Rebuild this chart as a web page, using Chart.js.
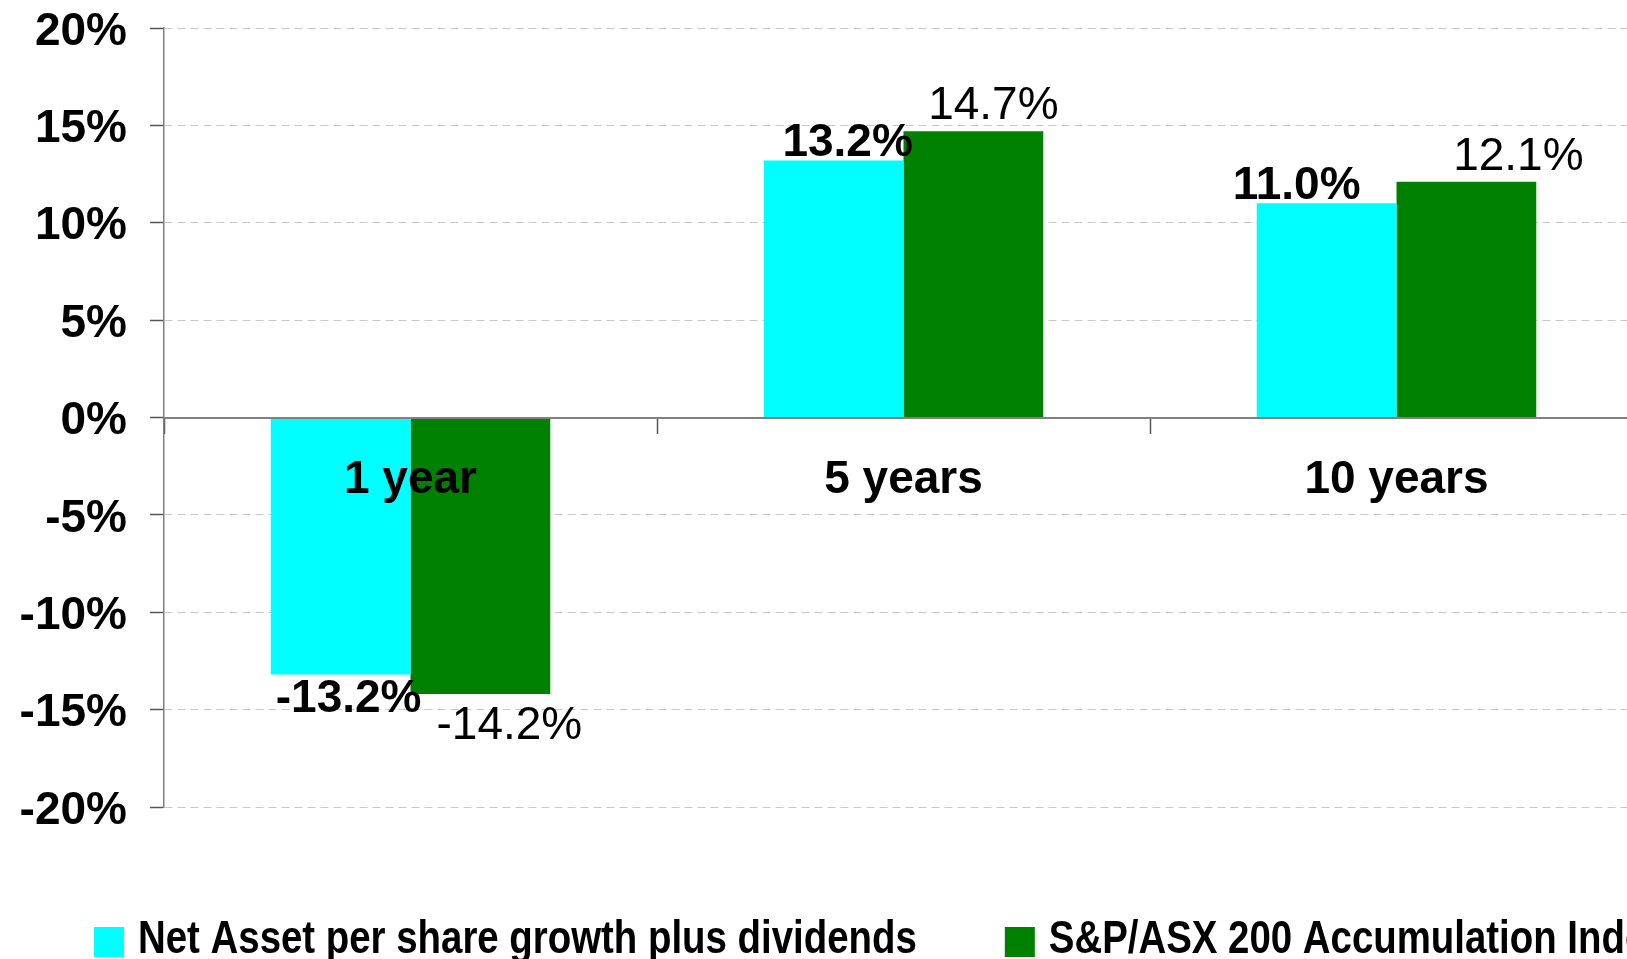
<!DOCTYPE html>
<html>
<head>
<meta charset="utf-8">
<script src="https://cdn.jsdelivr.net/npm/chart.js@4.4.1/dist/chart.umd.min.js"></script>
<style>
  html, body { margin: 0; padding: 0; background: #fff; overflow: hidden; }
  #wrap { position: absolute; left: 0; top: 0; }
</style>
</head>
<body>
<div id="wrap"><canvas id="perf" width="1700" height="959"></canvas></div>
<script>
// ── DATA ────────────────────────────────────────────────────────────────────────

const periods = ['1 year', '5 years', '10 years'];
const netAssetGrowth = [-13.2, 13.2, 11.0];
const asx200Index = [-14.2, 14.7, 12.1];
const seriesNames = ['Net Asset per share growth plus dividends', 'S&P/ASX 200 Accumulation Index'];

// ── LOOK ────────────────────────────────────────────────────────────────────────

const ARIAL = "'Liberation Sans', Arial, Helvetica, sans-serif";
const LABEL_SIZE = 46;
// value labels were dragged a bit in the original, so each one gets a small nudge
const labelShift = [[8, 14, -30], [29, 20, 52]];
const labelGap = [4, 12];
// no narrow font installed, so the legend text is squeezed by hand
const LEGEND_SQUEEZE = 0.817;

Chart.defaults.font.family = ARIAL;
Chart.defaults.color = '#000';

const valueLabels = {
  id: 'valueLabels',
  afterDatasetsDraw(chart) {
    const ctx = chart.ctx;
    chart.data.datasets.forEach((ds, di) => {
      const meta = chart.getDatasetMeta(di);
      ctx.save();
      ctx.font = (di === 0 ? 'bold ' : '') + LABEL_SIZE + 'px ' + ARIAL;
      ctx.fillStyle = '#000';
      ctx.textAlign = 'center';
      ctx.textBaseline = 'alphabetic';
      meta.data.forEach((bar, i) => {
        const v = ds.data[i];
        const x = bar.x + labelShift[di][i];
        const y = v >= 0 ? bar.y - labelGap[di] : bar.y + labelGap[di] + 0.716 * LABEL_SIZE;
        ctx.fillText(v.toFixed(1) + '%', x, y);
      });
      ctx.restore();
    });
  }
};

// legend along the bottom, one row, Arial-Narrow look
const narrowLegend = {
  id: 'narrowLegend',
  afterDraw(chart) {
    const ctx = chart.ctx;
    const area = chart.chartArea;
    let x = area.left - 70;
    const boxTop = area.bottom + 120;
    const baseline = area.bottom + 146;
    ctx.save();
    ctx.font = 'bold 47px ' + ARIAL;
    ctx.textAlign = 'left';
    ctx.textBaseline = 'alphabetic';
    chart.data.datasets.forEach(ds => {
      ctx.fillStyle = ds.backgroundColor;
      ctx.fillRect(x, boxTop, 30, 30);
      x += 30 + 14;
      ctx.save();
      ctx.translate(x, baseline);
      ctx.scale(LEGEND_SQUEEZE, 1);
      ctx.fillStyle = '#000';
      ctx.fillText(ds.label, 0, 0);
      ctx.restore();
      x += ctx.measureText(ds.label).width * LEGEND_SQUEEZE + 88;
    });
    ctx.restore();
  }
};

new Chart(document.getElementById('perf'), {
  type: 'bar',
  data: {
    labels: periods,
    datasets: [
      { label: seriesNames[0], data: netAssetGrowth, backgroundColor: '#00FFFF', borderWidth: 0 },
      { label: seriesNames[1], data: asx200Index, backgroundColor: '#008000', borderWidth: 0 }
    ]
  },
  options: {
    responsive: false,
    animation: false,
    layout: { padding: { left: 16, right: 57, top: 0, bottom: 152 } },
    datasets: { bar: { categoryPercentage: 0.567, barPercentage: 1.0 } },
    plugins: {
      tooltip: { enabled: false },
      legend: { display: false }
    },
    scales: {
      x: {
        position: { y: 0 },
        grid: { display: true, drawOnChartArea: false, drawTicks: true, tickLength: 15, tickColor: '#555', tickWidth: 1.5, offset: true },
        border: { display: true, color: '#808080', width: 2, z: 1 },
        ticks: { font: { size: 46, weight: 'bold' }, color: '#000', padding: 20, z: 1, maxRotation: 0 }
      },
      y: {
        position: 'left',
        min: -20,
        max: 20,
        afterFit(scale) {
          scale.width = 148;
          scale.paddingTop = 28;
          scale.paddingBottom = 28;
        },
        grid: { color: '#c8c8c8', lineWidth: 1, tickLength: 14, tickColor: '#555', tickWidth: 1.5 },
        border: { display: true, color: '#808080', width: 1.5, dash: [8, 5] },
        ticks: {
          stepSize: 5,
          padding: 23,
          labelOffset: 4,
          font: { size: 46, weight: 'bold' },
          color: '#000',
          callback: v => v + '%'
        }
      }
    }
  },
  plugins: [valueLabels, narrowLegend]
});
</script>
</body>
</html>
